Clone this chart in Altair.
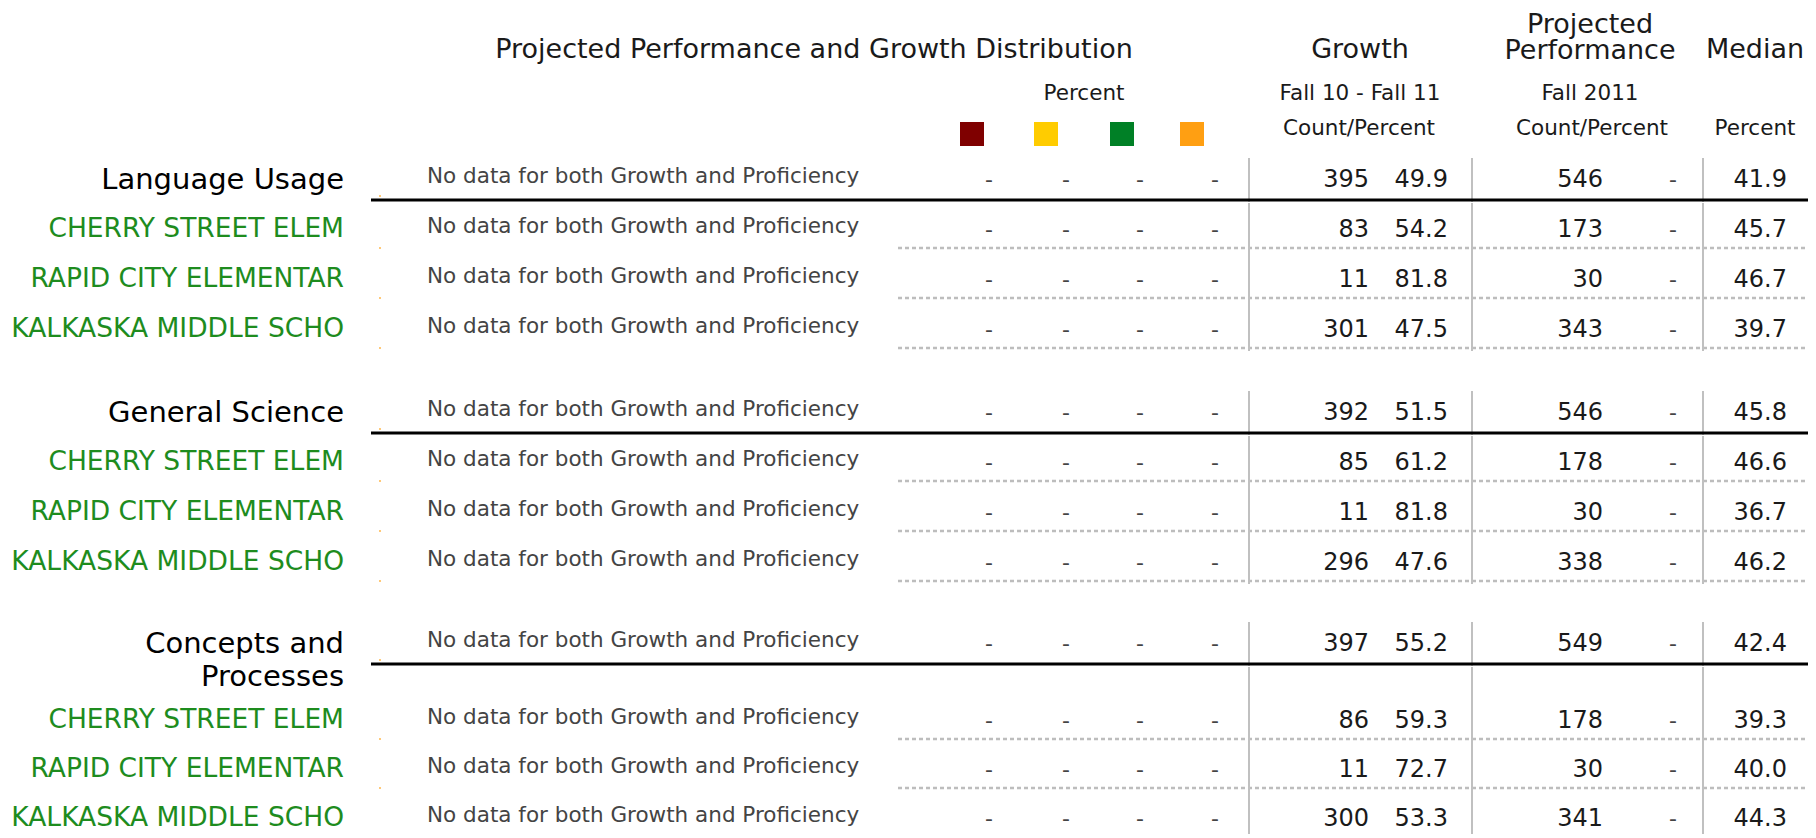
import altair as alt
import pandas as pd

# ---------------- data ----------------
sections = ["Language Usage", "General Science", "Concepts and\nProcesses"]
schools = ["CHERRY STREET ELEM", "RAPID CITY ELEMENTAR", "KALKASKA MIDDLE SCHO"]
growth_count = [[395, 83, 11, 301], [392, 85, 11, 296], [397, 86, 11, 300]]
growth_pct = [[49.9, 54.2, 81.8, 47.5], [51.5, 61.2, 81.8, 47.6], [55.2, 59.3, 72.7, 53.3]]
proj_count = [[546, 173, 30, 343], [546, 178, 30, 338], [549, 178, 30, 341]]
median_pct = [[41.9, 45.7, 46.7, 39.7], [45.8, 46.6, 36.7, 46.2], [42.4, 39.3, 40.0, 44.3]]
no_data_text = "No data for both Growth and Proficiency"
legend_colors = ["#7f0000", "#ffcc00", "#008026", "#ff9f12"]

# ---------------- layout (page pixel coordinates) ----------------
W, H, OFF = 1800, 826, 8
FONT = "DejaVu Sans"
section_y = [178, 411, 642]
sub_first = [50, 50, 77]
sub_pitch = [50, 50, 49]
label_right = 344
nodata_left = 427
dist_x = [989, 1066, 1140, 1215]
gc_right, gp_right = 1369, 1448
pc_right, pd_x = 1603, 1673
med_right = 1787
sep_x = [1249, 1472, 1703]
thick_x0, dash_x0, right_end = 371, 898, 1808
legend_x = [972, 1046, 1122, 1192]
legend_y = 134

XS = alt.Scale(domain=[OFF, OFF + W], nice=False, zero=False)
YS = alt.Scale(domain=[OFF, OFF + H], nice=False, zero=False, reverse=True)


def tx(rows, align, size, color, baseline="alphabetic", **kw):
    df = pd.DataFrame(rows, columns=["x", "y", "t"])
    return alt.Chart(df).mark_text(
        align=align, baseline=baseline, fontSize=size, color=color, font=FONT, **kw
    ).encode(
        x=alt.X("x:Q", scale=XS, axis=None),
        y=alt.Y("y:Q", scale=YS, axis=None),
        text="t:N",
    )


def rules(rows, color, width, dash=None):
    df = pd.DataFrame(rows, columns=["x", "x2", "y", "y2"])
    kw = dict(color=color, strokeWidth=width)
    if dash:
        kw["strokeDash"] = dash
    return alt.Chart(df).mark_rule(**kw).encode(
        x=alt.X("x:Q", scale=XS, axis=None), x2="x2:Q",
        y=alt.Y("y:Q", scale=YS, axis=None), y2="y2:Q",
    )


sec_labels, sch_labels, nodata, dashes, nums, pdash = [], [], [], [], [], []
thick, dashed, vert, dots = [], [], [], []

for s in range(3):
    hy = section_y[s]
    row_centers = [hy] + [hy + sub_first[s] + k * sub_pitch[s] for k in range(3)]
    thick_y = hy + 22
    sec_labels.append((label_right, hy + 11, sections[s]))
    thick.append((thick_x0, right_end, thick_y, thick_y))
    dots.append((380, thick_y - 4))
    prev_line = thick_y
    for r, cy in enumerate(row_centers):
        if r > 0:
            sch_labels.append((label_right, cy + 9, schools[r - 1]))
        nodata.append((nodata_left, cy + 5, no_data_text))
        for dx in dist_x:
            dashes.append((dx, cy + 9, "-"))
        nums.append((gc_right, cy + 9, str(growth_count[s][r])))
        nums.append((gp_right, cy + 9, f"{growth_pct[s][r]:.1f}"))
        nums.append((pc_right, cy + 9, str(proj_count[s][r])))
        nums.append((med_right, cy + 9, f"{median_pct[s][r]:.1f}"))
        pdash.append((pd_x, cy + 9, "-"))
        if r == 0:
            for sx in sep_x:
                vert.append((sx, sx, cy - 20, thick_y + 2))
        else:
            line_y = cy + 20
            if not (s == 2 and r == 3):
                dashed.append((dash_x0, right_end, line_y, line_y))
                dots.append((380, line_y))
            for sx in sep_x:
                vert.append((sx, sx, prev_line + 3, min(line_y + 3, OFF + H)))
            prev_line = line_y

headers_big = [
    (814, 58, "Projected Performance and Growth Distribution"),
    (1360, 58, "Growth"),
    (1755, 58, "Median"),
]
headers_two_line = [
    (1590, 33, "Projected\nPerformance"),
]
headers_small = [
    (1084, 100, "Percent"),
    (1360, 100, "Fall 10 - Fall 11"),
    (1590, 100, "Fall 2011"),
    (1359, 135, "Count/Percent"),
    (1592, 135, "Count/Percent"),
    (1755, 135, "Percent"),
]

legend_df = pd.DataFrame({"x": legend_x, "y": [legend_y] * 4, "c": legend_colors})
legend = alt.Chart(legend_df).mark_square(size=576, opacity=1, filled=True).encode(
    x=alt.X("x:Q", scale=XS, axis=None),
    y=alt.Y("y:Q", scale=YS, axis=None),
    color=alt.Color("c:N", scale=None),
)

dots_df = pd.DataFrame(dots, columns=["x", "y"])
dot_layer = alt.Chart(dots_df).mark_square(size=2, opacity=1, filled=True, color="#ff9900").encode(
    x=alt.X("x:Q", scale=XS, axis=None),
    y=alt.Y("y:Q", scale=YS, axis=None),
)

layers = [
    rules(dashed, "#bdbdbd", 2.5, [4, 3]),
    rules(vert, "#c0c0c0", 2),
    rules(thick, "#000000", 3),
    dot_layer,
    legend,
    tx(headers_big, "center", 27, "#1a1a1a"),
    tx(headers_two_line, "center", 27, "#1a1a1a", lineBreak="\n", lineHeight=26),
    tx(headers_small, "center", 21.5, "#1a1a1a"),
    tx(sec_labels, "right", 29, "#000000", lineBreak="\n", lineHeight=33),
    tx(sch_labels, "right", 26.5, "#1e8c1e"),
    tx(nodata, "left", 21.5, "#444444"),
    tx(dashes, "center", 22, "#444444"),
    tx(pdash, "center", 22, "#444444"),
    tx(nums, "right", 24, "#1a1a1a"),
]

chart = alt.layer(*layers).properties(
    width=W, height=H, padding=0, autosize="none"
).configure_view(stroke=None)

chart.save("out.html", embed_options={"renderer": "svg", "actions": False})
